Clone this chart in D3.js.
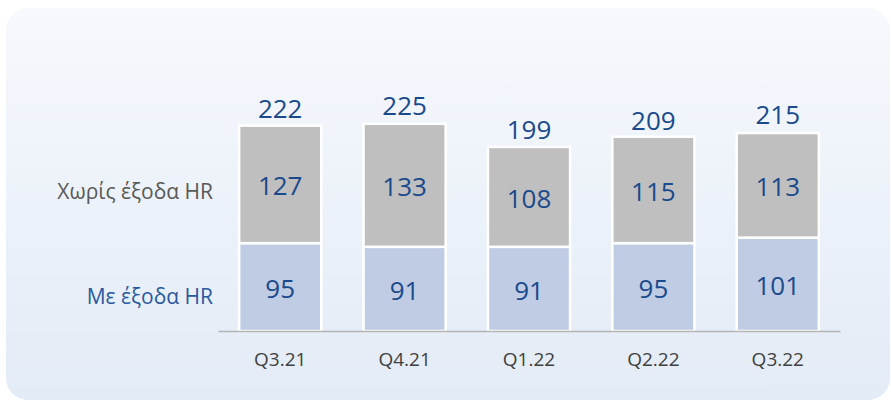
<!DOCTYPE html>
<html>
<head>
<meta charset="utf-8">
<script src="https://cdn.jsdelivr.net/npm/d3@7"></script>
<style>
  html, body { margin: 0; padding: 0; background: #ffffff; }
  svg { display: block; }
</style>
</head>
<body>
<svg id="chart" width="891" height="403"></svg>
<script>
const categories = ["Q3.21", "Q4.21", "Q1.22", "Q2.22", "Q3.22"];
const withHR = [95, 91, 91, 95, 101];
const withoutHR = [127, 133, 108, 115, 113];
const totals = [222, 225, 199, 209, 215];
const seriesNames = ["Με έξοδα HR", "Χωρίς έξοδα HR"];

const svg = d3.select("#chart");
const font = "'Open Sans', 'Noto Sans', sans-serif";

// panel background
const defs = svg.append("defs");
const grad = defs.append("linearGradient").attr("id", "bg").attr("x1", 0).attr("y1", 0).attr("x2", 0).attr("y2", 1);
grad.append("stop").attr("offset", "0%").attr("stop-color", "#f6f9fd");
grad.append("stop").attr("offset", "100%").attr("stop-color", "#e3ebf6");
svg.append("rect").attr("x", 6).attr("y", 8).attr("width", 884).attr("height", 392)
  .attr("rx", 22).attr("ry", 22).attr("fill", "url(#bg)");

const x = d3.scaleBand().domain(categories).range([218, 840]).paddingInner(0.34).paddingOuter(0.17);
const y = d3.scaleLinear().domain([0, 240]).range([331, 109]);

const rows = categories.map((c, i) => ({ cat: c, a: withHR[i], b: withoutHR[i], t: totals[i] }));
const stack = d3.stack().keys(["a", "b"])(rows);
const fills = ["#c0cce4", "#bfbfbf"];

const g = svg.append("g");
stack.forEach((layer, li) => {
  g.selectAll(null).data(layer).enter().append("rect")
    .attr("x", d => x(d.data.cat))
    .attr("y", d => y(d[1]))
    .attr("width", x.bandwidth())
    .attr("height", d => y(d[0]) - y(d[1]))
    .attr("fill", fills[li])
    .attr("stroke", "#ffffff")
    .attr("stroke-width", 2.5);
  g.selectAll(null).data(layer).enter().append("text")
    .attr("x", d => x(d.data.cat) + x.bandwidth() / 2)
    .attr("y", d => (y(d[0]) + y(d[1])) / 2 + 11)
    .attr("text-anchor", "middle")
    .attr("font-family", font)
    .attr("font-size", 26)
    .attr("fill", "#1a4a8c")
    .text(d => d[1] - d[0]);
});

// totals
g.selectAll(null).data(rows).enter().append("text")
  .attr("x", d => x(d.cat) + x.bandwidth() / 2)
  .attr("y", d => y(d.t) - 8)
  .attr("text-anchor", "middle")
  .attr("font-family", font)
  .attr("font-size", 26)
  .attr("fill", "#1a4a8c")
  .text(d => d.t);

// axis
const axis = svg.append("g").attr("transform", "translate(0," + y(0) + ")")
  .call(d3.axisBottom(x).tickSize(0).tickPadding(22));
axis.select(".domain").attr("stroke", "#b4b4b4").attr("stroke-width", 1.5);
axis.selectAll("text").attr("font-family", font).attr("font-size", 19).attr("fill", "#404040");

// series labels
svg.append("text").attr("x", 213).attr("y", 199).attr("text-anchor", "end")
  .attr("font-family", font).attr("font-size", 21).attr("fill", "#595959").text(seriesNames[1]);
svg.append("text").attr("x", 213).attr("y", 304).attr("text-anchor", "end")
  .attr("font-family", font).attr("font-size", 21).attr("fill", "#2a5aa0").text(seriesNames[0]);
</script>
</body>
</html>
